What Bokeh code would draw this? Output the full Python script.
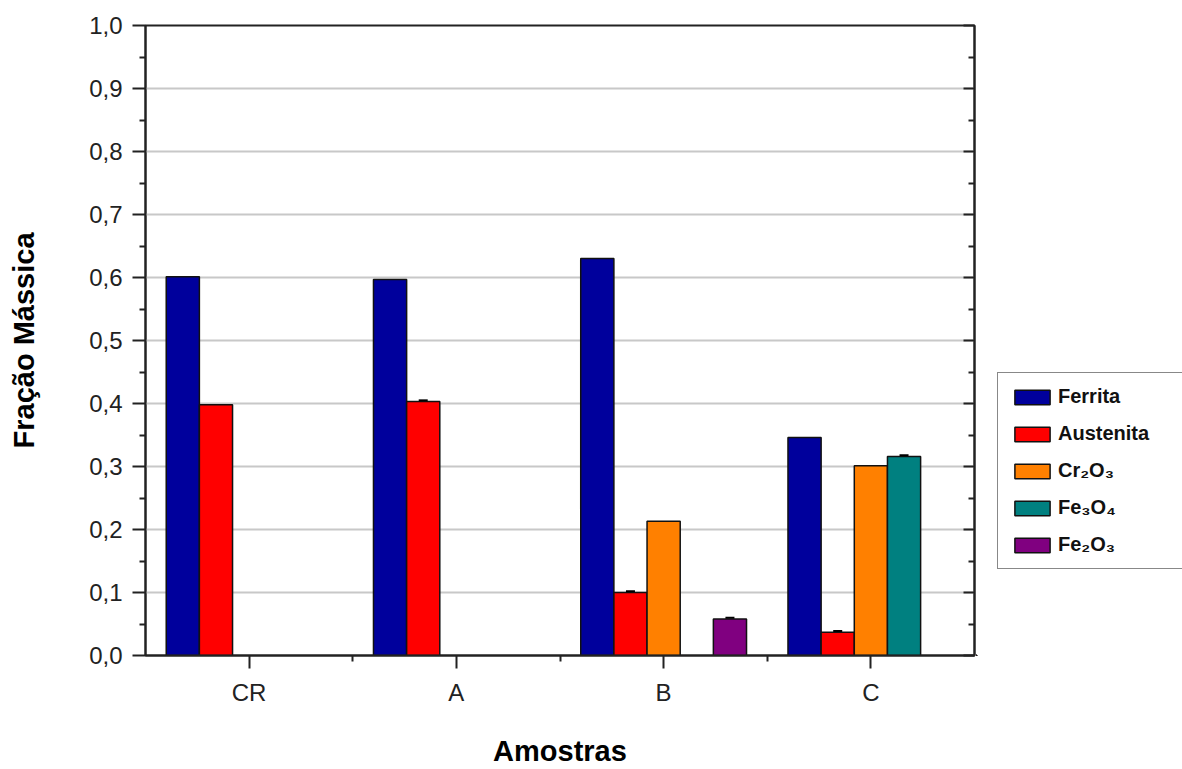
from bokeh.plotting import figure
from bokeh.layouts import row
from bokeh.models import (Range1d, FixedTicker, LinearAxis, Legend, LegendItem,
                          ColumnDataSource)
from bokeh.embed import file_html
from bokeh.resources import INLINE

# Mass fraction of each phase per sample
samples = ["CR", "A", "B", "C"]
phases = ["Ferrita", "Austenita", "Cr\u2082O\u2083", "Fe\u2083O\u2084", "Fe\u2082O\u2083"]
ferrita = [0.601, 0.597, 0.630, 0.346]
austenita = [0.398, 0.403, 0.100, 0.037]
cr2o3 = [0.0, 0.0, 0.213, 0.301]
fe3o4 = [0.0, 0.0, 0.0, 0.316]
fe2o3 = [0.0, 0.0, 0.058, 0.0]
# Uncertainties (standard deviation)
err_ferrita = [0.0, 0.0, 0.0, 0.0]
err_austenita = [0.0, 0.002, 0.002, 0.002]
err_cr2o3 = [0.0, 0.0, 0.0, 0.0]
err_fe3o4 = [0.0, 0.0, 0.0, 0.002]
err_fe2o3 = [0.0, 0.0, 0.002, 0.0]

y_ticks = [0.0, 0.1, 0.2, 0.3, 0.4, 0.5, 0.6, 0.7, 0.8, 0.9, 1.0]
y_tick_labels = ["0,0", "0,1", "0,2", "0,3", "0,4", "0,5", "0,6", "0,7", "0,8", "0,9", "1,0"]

series = [ferrita, austenita, cr2o3, fe3o4, fe2o3]
errors = [err_ferrita, err_austenita, err_cr2o3, err_fe3o4, err_fe2o3]
colors = ["#00009C", "#FF0000", "#FF8000", "#008080", "#800080"]

FONT = "Liberation Sans"
bar_w = 0.16
AX = "#222222"

p = figure(width=976, height=769, output_backend="svg", toolbar_location=None,
           x_range=Range1d(0.5, 4.5), y_range=Range1d(0.0, 1.0),
           min_border_left=145, min_border_right=2, min_border_top=25,
           min_border_bottom=113)
p.background_fill_color = "white"
p.border_fill_color = "white"
p.outline_line_color = AX
p.outline_line_width = 2

cat_x = [i + 1 for i in range(len(samples))]

# Side panel holding the legend; its ranges keep the shared bars out of view
lg = figure(width=206, height=769, output_backend="svg", toolbar_location=None,
            x_axis_location=None, y_axis_location=None,
            x_range=Range1d(10, 11), y_range=Range1d(10, 11),
            min_border_left=0, min_border_right=0, min_border_top=0, min_border_bottom=0)
lg.outline_line_color = None
lg.grid.visible = False
lg.background_fill_color = "white"
lg.border_fill_color = "white"

items = []
for k, (vals, errs, col, name) in enumerate(zip(series, errors, colors, phases)):
    off = (k - 2) * bar_w
    xs = [cx + off for cx, v in zip(cat_x, vals) if v > 0]
    ys = [v for v in vals if v > 0]
    es = [e for v, e in zip(vals, errs) if v > 0]
    src = ColumnDataSource(dict(x=xs, top=ys))
    p.vbar(x="x", top="top", bottom=0, width=bar_w, source=src,
           fill_color=col, line_color="#111111", line_width=1.5)
    sw = lg.vbar(x="x", top="top", bottom=0, width=bar_w, source=src,
                 fill_color=col, line_color="#111111", line_width=1.5)
    items.append(LegendItem(label=name, renderers=[sw]))
    # error caps where an uncertainty is reported
    if any(e > 0 for e in es):
        src2 = ColumnDataSource(dict(x=[x for x, e in zip(xs, es) if e > 0],
                                     y=[y + e for y, e in zip(ys, es) if e > 0]))
        p.dash(x="x", y="y", source=src2, size=9, line_color="black", line_width=2)

minor_y = [0.05 + 0.1 * i for i in range(10)]


def style_axis(ax):
    ax.axis_line_width = 2
    ax.axis_line_color = AX
    ax.major_tick_line_width = 2
    ax.minor_tick_line_width = 2
    ax.major_tick_line_color = AX
    ax.minor_tick_line_color = AX
    ax.major_label_text_font = FONT
    ax.major_label_text_font_size = "24px"
    ax.major_label_text_color = AX
    ax.axis_label_text_font = FONT
    ax.axis_label_text_font_style = "bold"
    ax.axis_label_text_font_size = "29px"
    ax.axis_label_text_color = "black"


ya = p.yaxis[0]
style_axis(ya)
ya.ticker = FixedTicker(ticks=y_ticks, minor_ticks=minor_y)
ya.major_label_overrides = {t: l for t, l in zip(y_ticks, y_tick_labels)}
ya.axis_label = "Fração Mássica"
ya.axis_label_standoff = 46
ya.major_label_standoff = 10
ya.major_tick_out = 13
ya.major_tick_in = 0
ya.minor_tick_out = 6
ya.minor_tick_in = 0

xa = p.xaxis[0]
style_axis(xa)
xa.ticker = FixedTicker(ticks=cat_x, minor_ticks=[1.5, 2.5, 3.5])
xa.major_label_overrides = {c: s for c, s in zip(cat_x, samples)}
xa.axis_label = "Amostras"
xa.axis_label_standoff = 26
xa.major_label_standoff = 10
xa.major_tick_out = 13
xa.major_tick_in = 0
xa.minor_tick_out = 6
xa.minor_tick_in = 0

ra = LinearAxis(ticker=FixedTicker(ticks=y_ticks, minor_ticks=minor_y),
                major_label_overrides={t: "" for t in y_ticks},
                major_tick_in=11, major_tick_out=0, minor_tick_in=6, minor_tick_out=0,
                major_label_standoff=0)
style_axis(ra)
p.add_layout(ra, "right")

p.xgrid.visible = False
p.ygrid.ticker = FixedTicker(ticks=y_ticks[1:-1])
p.ygrid.grid_line_color = "#c8c8c8"
p.ygrid.grid_line_width = 2

legend = Legend(items=items, location=(21, 86), orientation="vertical",
                glyph_width=44, glyph_height=18, label_text_font=FONT,
                label_text_font_size="20px", label_text_font_style="bold",
                label_text_color="#111111", label_standoff=4, label_width=116,
                spacing=14, padding=12, margin=0,
                border_line_color="#111111", border_line_width=1.5,
                background_fill_color="white", background_fill_alpha=1.0)
lg.add_layout(legend, "center")

layout = row(p, lg, spacing=0)
open("out.html", "w").write(file_html(layout, INLINE))
